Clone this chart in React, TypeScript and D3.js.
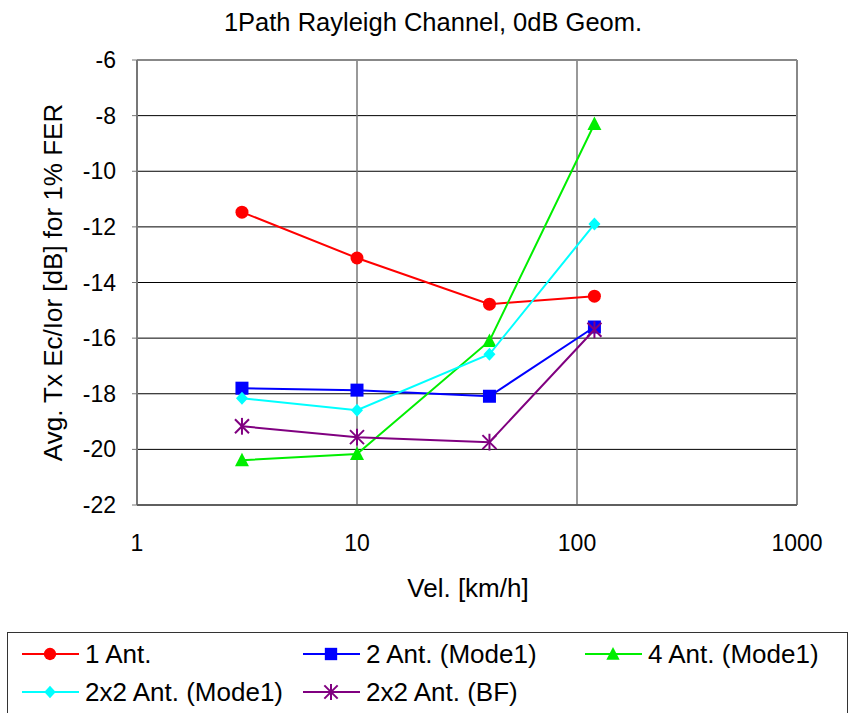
import React from "react";
import * as d3 from "d3";

const velocities = [3, 10, 40, 120];
const oneAnt = [-11.47, -13.12, -14.78, -14.49];
const twoAnt = [-17.8, -17.87, -18.09, -15.6];
const fourAnt = [-20.39, -20.17, -16.1, -8.3];
const twoByTwoMode1 = [-18.16, -18.59, -16.58, -11.9];
const twoByTwoBF = [-19.17, -19.56, -19.74, -15.7];

const xTicks = [1, 10, 100, 1000];
const yTicks = [-6, -8, -10, -12, -14, -16, -18, -20, -22];

const seriesNames = ["1 Ant.", "2 Ant. (Mode1)", "4 Ant. (Mode1)", "2x2 Ant. (Mode1)", "2x2 Ant. (BF)"];
const seriesValues = [oneAnt, twoAnt, fourAnt, twoByTwoMode1, twoByTwoBF];
const colors = ["#ff0000", "#0000ff", "#00ee00", "#00ffff", "#800080"];
const markers = ["circle", "square", "triangle", "diamond", "star"];

const W = 854, H = 713;
const L = 137, R = 797, T = 60, B = 505;
const FONT = "'Liberation Sans', Arial, sans-serif";

function Marker({ type, x, y, color, k = 1 }: { type: string; x: number; y: number; color: string; k?: number }) {
  if (type === "circle") return <circle cx={x} cy={y} r={6.5 * k} fill={color} />;
  if (type === "square") return <rect x={x - 6.5 * k} y={y - 6.5 * k} width={13 * k} height={13 * k} fill={color} />;
  if (type === "triangle")
    return <path d={`M${x},${y - 7.5 * k}L${x + 7 * k},${y + 6 * k}L${x - 7 * k},${y + 6 * k}Z`} fill={color} />;
  if (type === "diamond")
    return <path d={`M${x},${y - 6.5 * k}L${x + 6 * k},${y}L${x},${y + 6.5 * k}L${x - 6 * k},${y}Z`} fill={color} />;
  const s = 7 * k;
  return (
    <g stroke={color} strokeWidth={2}>
      <line x1={x - s} y1={y - s} x2={x + s} y2={y + s} />
      <line x1={x - s} y1={y + s} x2={x + s} y2={y - s} />
      <line x1={x} y1={y - s * 1.2} x2={x} y2={y + s * 1.2} />
    </g>
  );
}

export default function App() {
  const x = d3.scaleLog().domain([1, 1000]).range([L, R]);
  const y = d3.scaleLinear().domain([-22, -6]).range([B, T]);
  const line = d3
    .line<[number, number]>()
    .x((d) => x(d[0]))
    .y((d) => y(d[1]));

  const legendCols = [22, 303, 585];
  const legendRows = [654, 692];

  return (
    <svg
      width={W}
      height={H}
      style={{ position: "absolute", left: 0, top: 0, background: "#fff" }}
      fontFamily={FONT}
    >
      <rect x={0} y={0} width={W} height={H} fill="#fff" />
      <text x={433} y={31} textAnchor="middle" fontSize={25.5}>
        1Path Rayleigh Channel, 0dB Geom.
      </text>

      {yTicks.map((t) => (
        <line key={"h" + t} x1={L} x2={R} y1={y(t)} y2={y(t)} stroke="#000" strokeWidth={1} />
      ))}
      {xTicks.slice(1, 3).map((t) => (
        <line key={"v" + t} x1={x(t)} x2={x(t)} y1={T} y2={B} stroke="#777" strokeWidth={1.5} />
      ))}
      <line x1={L} x2={R} y1={T} y2={T} stroke="#888" strokeWidth={2} />
      <line x1={R} x2={R} y1={T} y2={B} stroke="#888" strokeWidth={2} />
      <line x1={L} x2={L} y1={T} y2={B} stroke="#777" strokeWidth={2} />
      <line x1={L} x2={R} y1={B} y2={B} stroke="#555" strokeWidth={1.5} />
      {yTicks.map((t) => (
        <line key={"yt" + t} x1={L - 5} x2={L} y1={y(t)} y2={y(t)} stroke="#777" strokeWidth={1} />
      ))}

      {yTicks.map((t) => (
        <text key={"yl" + t} x={L - 21} y={y(t) + 8} textAnchor="end" fontSize={23}>
          {t}
        </text>
      ))}
      {xTicks.map((t) => (
        <text key={"xl" + t} x={x(t)} y={551} textAnchor="middle" fontSize={23}>
          {t}
        </text>
      ))}
      <text x={468} y={597} textAnchor="middle" fontSize={26}>
        Vel. [km/h]
      </text>
      <text
        transform={`translate(62,${(T + B) / 2}) rotate(-90)`}
        textAnchor="middle"
        fontSize={26}
      >
        Avg. Tx Ec/Ior [dB] for 1% FER
      </text>

      {seriesValues.map((vals, i) => {
        const pts = velocities.map((v, j) => [v, vals[j]] as [number, number]);
        return (
          <g key={"s" + i}>
            <path d={line(pts) || ""} fill="none" stroke={colors[i]} strokeWidth={2} />
            {pts.map((p, j) => (
              <Marker key={j} type={markers[i]} x={x(p[0])} y={y(p[1])} color={colors[i]} />
            ))}
          </g>
        );
      })}

      <rect x={7.5} y={632.5} width={840} height={90} fill="#fff" stroke="#333" strokeWidth={1} />
      {seriesNames.map((name, i) => {
        const cx = legendCols[i % 3];
        const cy = legendRows[Math.floor(i / 3)];
        return (
          <g key={"lg" + i}>
            <line x1={cx} x2={cx + 57} y1={cy} y2={cy} stroke={colors[i]} strokeWidth={2} />
            <Marker type={markers[i]} x={cx + 28} y={cy} color={colors[i]} k={0.95} />
            <text x={cx + 63} y={cy + 8.5} fontSize={26}>
              {name}
            </text>
          </g>
        );
      })}
    </svg>
  );
}
